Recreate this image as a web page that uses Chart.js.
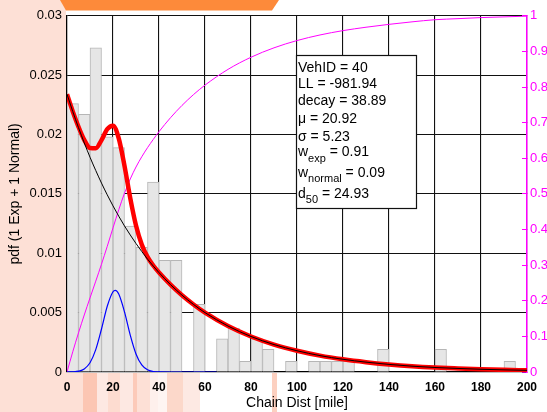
<!DOCTYPE html>
<html>
<head>
<meta charset="utf-8">
<script src="https://cdn.jsdelivr.net/npm/chart.js@4"></script>
<style>
  html, body { margin: 0; padding: 0; background: #fff; }
  canvas { display: block; }
</style>
</head>
<body>
<canvas id="fitChart" width="547" height="412"></canvas>
<script>
// histogram of chain distances, 5 mile bins (bin centres)
const binCenters = [2.5, 7.5, 12.5, 17.5, 22.5, 27.5, 32.5, 37.5, 42.5, 47.5,
  52.5, 57.5, 62.5, 67.5, 72.5, 77.5, 82.5, 87.5, 92.5, 97.5,
  102.5, 107.5, 112.5, 117.5, 122.5, 127.5, 132.5, 137.5, 142.5, 147.5,
  152.5, 157.5, 162.5, 167.5, 172.5, 177.5, 182.5, 187.5, 192.5, 197.5];
const binDensity = [0.0226, 0.0217, 0.0273, 0.0198, 0.0189, 0.0123, 0.0105, 0.0160, 0.0094, 0.0094,
  0, 0.0057, 0, 0.0028, 0.0037, 0.0009, 0.0028, 0.0019, 0, 0.0009,
  0, 0.0009, 0.0009, 0.0009, 0.0009, 0, 0, 0.0019, 0, 0,
  0, 0, 0.0019, 0, 0, 0, 0, 0, 0.0009, 0];

// fitted curves
const curveDist = [0, 2.5, 5, 7.5, 10, 12.5, 15, 17.5, 20, 22.5, 25, 27.5, 30, 32.5, 35, 37.5, 40,
  45, 50, 55, 60, 70, 80, 90, 100, 110, 120, 130, 140, 150, 160, 170, 180, 190, 200];
const expPdf = [0.02340, 0.02194, 0.02058, 0.01930, 0.01809, 0.01697, 0.01591, 0.01492, 0.01399,
  0.01312, 0.01230, 0.01154, 0.01082, 0.01015, 0.00951, 0.00892, 0.00837,
  0.00736, 0.00647, 0.00569, 0.00500, 0.00387, 0.00299, 0.00231, 0.00179, 0.00138,
  0.00107, 0.00083, 0.00064, 0.00049, 0.00038, 0.00030, 0.00023, 0.00018, 0.00014];
const mixPdf = [0.02340, 0.02195, 0.02065, 0.01955, 0.01887, 0.01885, 0.01953, 0.02046, 0.02075,
  0.01968, 0.01736, 0.01465, 0.01234, 0.01074, 0.00969, 0.00897, 0.00838,
  0.00736, 0.00647, 0.00569, 0.00500, 0.00387, 0.00299, 0.00231, 0.00179, 0.00138,
  0.00107, 0.00083, 0.00064, 0.00049, 0.00038, 0.00030, 0.00023, 0.00018, 0.00014];
const mixCdf = [0, 0.0567, 0.1099, 0.1601, 0.2080, 0.2550, 0.3028, 0.3529, 0.4046,
  0.4555, 0.5019, 0.5419, 0.5755, 0.6042, 0.6297, 0.6529, 0.6747,
  0.7139, 0.7484, 0.7788, 0.8054, 0.8496, 0.8837, 0.9101, 0.9305, 0.9462,
  0.9584, 0.9679, 0.9760, 0.9830, 0.9890, 0.9920, 0.9950, 0.9970, 0.9990];
const normalDist = [0, 2.5, 5, 7.5, 10, 12.5, 15, 17.5, 20, 21, 22.5, 25, 27.5, 30, 32.5, 35, 37.5, 40,
  45, 50, 55, 60, 65];
const normalPdf = [0.000002, 0.000014, 0.000067, 0.000255, 0.000776, 0.00188, 0.00362, 0.00554, 0.00676,
  0.00687, 0.00656, 0.00506, 0.00311, 0.00152, 0.000592, 0.000183, 0.000045, 0.000009,
  0, 0, 0, 0, 0];

const distTicks = [0, 20, 40, 60, 80, 100, 120, 140, 160, 180, 200];
const pdfTicks = [0, 0.005, 0.01, 0.015, 0.02, 0.025, 0.03];
const cdfTicks = [0, 0.1, 0.2, 0.3, 0.4, 0.5, 0.6, 0.7, 0.8, 0.9, 1];

// fit summary: [text, subscript, text after subscript]
const fitStats = [
  ['VehID = 40'],
  ['LL = -981.94'],
  ['decay = 38.89'],
  ['\u03bc = 20.92'],
  ['\u03c3 = 5.23'],
  ['w', 'exp', ' = 0.91'],
  ['w', 'normal', ' = 0.09'],
  ['d', '50', ' = 24.93']
];

const FONT = 'Arial, "Liberation Sans", sans-serif';
Chart.defaults.font.family = FONT;

const backdrop = {
  id: 'backdrop',
  beforeDraw(chart) {
    const ctx = chart.ctx;
    ctx.save();
    ctx.fillStyle = '#fde0d6';
    ctx.fillRect(0, 0, 66, 412);
    const strips = [
      [0, 83, '#fde0d6'], [83, 97, '#fcc6b3'], [97, 108, '#fde8e2'], [108, 120, '#fddcd0'],
      [120, 133, '#fde8e2'], [133, 137, '#fccab9'], [137, 150, '#fde0d6'], [150, 158, '#fef0ec'],
      [158, 167, '#fef5f2'], [167, 183, '#fcd8ca'], [183, 200, '#fde9e3'], [272, 277, '#fcd0c0']
    ];
    strips.forEach(([x0, x1, c]) => {
      ctx.fillStyle = c;
      ctx.fillRect(x0, 373, x1 - x0, 39);
    });
    ctx.fillStyle = '#fd8a3a';
    ctx.beginPath();
    ctx.moveTo(60, 0);
    ctx.lineTo(279, 0);
    ctx.lineTo(272, 10.5);
    ctx.lineTo(66, 10.5);
    ctx.closePath();
    ctx.fill();
    ctx.restore();
  }
};

const statsBox = {
  id: 'statsBox',
  afterDraw(chart) {
    const ctx = chart.ctx;
    const baselines = [71.7, 88.3, 104.8, 122.7, 141, 156.2, 176.7, 197.7];
    ctx.save();
    ctx.fillStyle = '#fff';
    ctx.fillRect(296, 55, 121, 154);
    ctx.strokeStyle = '#111';
    ctx.lineWidth = 1.2;
    ctx.strokeRect(296.5, 55.5, 120, 153);
    ctx.fillStyle = '#000';
    ctx.textBaseline = 'alphabetic';
    fitStats.forEach((parts, i) => {
      let x = 298;
      const y = baselines[i];
      ctx.font = '14px ' + FONT;
      ctx.fillText(parts[0], x, y);
      x += ctx.measureText(parts[0]).width;
      if (parts.length > 1) {
        ctx.font = '11px ' + FONT;
        ctx.fillText(parts[1], x, y + 5.5);
        x += ctx.measureText(parts[1]).width;
        ctx.font = '14px ' + FONT;
        ctx.fillText(parts[2], x, y);
      }
    });
    ctx.restore();
  }
};

const pts = (xs, ys) => xs.map((x, i) => ({ x, y: ys[i] }));
const curve = { type: 'line', pointRadius: 0, cubicInterpolationMode: 'monotone', fill: false };

new Chart(document.getElementById('fitChart'), {
  type: 'bar',
  data: {
    datasets: [
      { ...curve, data: pts(curveDist, expPdf), borderColor: '#000', borderWidth: 1, order: 1 },
      { ...curve, data: pts(curveDist, mixPdf), borderColor: '#ff0000', borderWidth: 4.5, order: 2 },
      { ...curve, data: pts(normalDist, normalPdf), borderColor: '#0000ff', borderWidth: 1.2, order: 3 },
      { ...curve, data: pts(curveDist, mixCdf), borderColor: '#ff00ff', borderWidth: 1, yAxisID: 'y1', order: 4 },
      {
        type: 'bar',
        data: pts(binCenters, binDensity.map(v => v || null)),
        backgroundColor: '#e6e6e6',
        borderColor: '#b6b6b6',
        borderWidth: 1,
        barPercentage: 1,
        categoryPercentage: 1,
        order: 5
      }
    ]
  },
  options: {
    responsive: false,
    animation: false,
    layout: { padding: { top: 12, left: 0, right: 0, bottom: 0 } },
    plugins: { legend: { display: false }, tooltip: { enabled: false } },
    scales: {
      x: {
        type: 'linear',
        min: 0,
        max: 200,
        offset: false,
        afterBuildTicks: s => { s.ticks = distTicks.map(v => ({ value: v })); },
        afterFit: s => { s.height = 40; },
        grid: { color: '#111', lineWidth: 1.1, offset: false, drawTicks: false },
        border: { color: '#000', width: 1.2 },
        ticks: { color: '#000', font: { size: 12, weight: 'bold' }, padding: 8, maxRotation: 0, autoSkip: false },
        title: { display: true, text: 'Chain Dist [mile]', color: '#000', font: { size: 14 }, padding: { top: 0, bottom: 0 } }
      },
      y: {
        position: 'left',
        min: 0,
        max: 0.03,
        afterBuildTicks: s => { s.ticks = pdfTicks.map(v => ({ value: v })); },
        afterFit: s => { s.width = 67; },
        grid: { color: '#111', lineWidth: 1.1, drawTicks: false },
        border: { color: '#000', width: 1.2 },
        ticks: { color: '#000', font: { size: 13 }, padding: 5, callback: v => String(v) },
        title: { display: true, text: 'pdf (1 Exp + 1 Normal)', color: '#000', font: { size: 14 }, padding: { top: 7, bottom: 0 } }
      },
      y1: {
        position: 'right',
        min: 0,
        max: 1,
        afterBuildTicks: s => { s.ticks = cdfTicks.map(v => ({ value: v })); },
        afterFit: s => { s.width = 20; },
        grid: { drawOnChartArea: false, color: '#ff00ff', tickLength: -5 },
        border: { color: '#ff00ff', width: 1.5 },
        ticks: { color: '#ff00ff', font: { size: 13 }, padding: 8, callback: v => String(v) }
      }
    }
  },
  plugins: [backdrop, statsBox]
});
</script>
</body>
</html>
